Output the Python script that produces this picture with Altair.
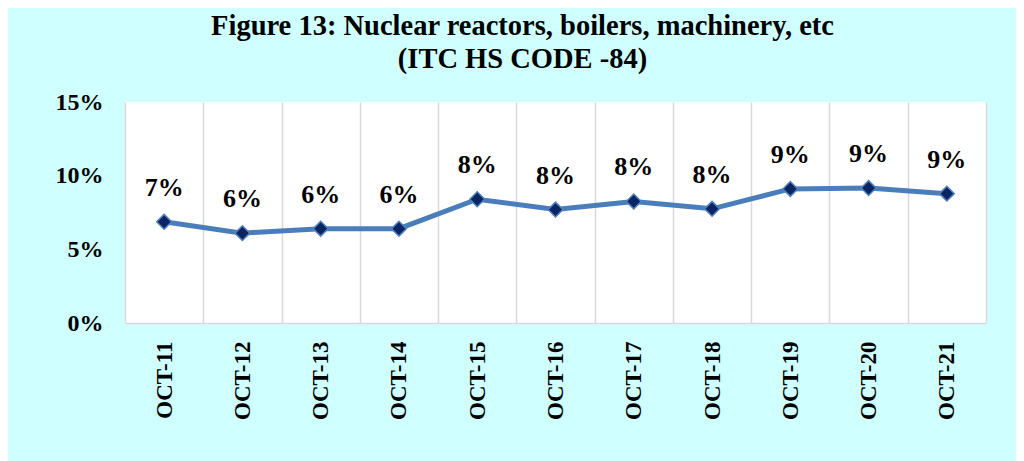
import altair as alt
import pandas as pd

categories = ["OCT-11", "OCT-12", "OCT-13", "OCT-14", "OCT-15", "OCT-16",
              "OCT-17", "OCT-18", "OCT-19", "OCT-20", "OCT-21"]
shares = [0.0687, 0.061, 0.064, 0.064, 0.084, 0.077, 0.0825, 0.0775, 0.091, 0.0916, 0.0878]
y_ticks = [0, 0.05, 0.10, 0.15]

df = pd.DataFrame({"month": categories, "share": shares})

FONT = "Liberation Serif"

x = alt.X("month:N", sort=categories, title=None,
          scale=alt.Scale(paddingInner=0, paddingOuter=0),
          axis=alt.Axis(labelAngle=-90, labelFont=FONT, labelFontSize=23,
                        labelFontWeight="bold", labelColor="black",
                        labelPadding=18, ticks=False, tickBand="extent",
                        grid=True, gridColor="#d9d9d9", gridWidth=1.5,
                        domainColor="#d9d9d9", domainWidth=1.5,
                        labelAlign="right", labelBaseline="middle"))
y = alt.Y("share:Q", title=None,
          scale=alt.Scale(domain=[0, 0.15], nice=False),
          axis=alt.Axis(values=y_ticks, format=".0%", labelFont=FONT,
                        labelFontSize=24, labelFontWeight="bold",
                        labelColor="black", labelPadding=22, ticks=False,
                        domain=False, grid=False))

base = alt.Chart(df).encode(x=x, y=y)

line = base.mark_line(color="#4a7ebb", strokeWidth=5)
pts = base.mark_point(shape="diamond", filled=True, size=220, fill="#0b2463",
                      stroke="#4f81bd", strokeWidth=1.5, opacity=1)
labels = base.mark_text(dy=-34, font=FONT, fontSize=26, fontWeight="bold",
                        color="black").encode(text=alt.Text("share:Q", format=".0%"))

chart = alt.layer(line, pts, labels).properties(
    width=861, height=221,
    title=alt.TitleParams(
        ["Figure 13: Nuclear reactors, boilers, machinery, etc", "(ITC HS CODE -84)"],
        font=FONT, fontSize=28.5, fontWeight="bold", color="black",
        anchor="middle", dx=-33, offset=17, lineHeight=33),
    background="#cfffff",
    padding={"left": 117, "top": 94, "right": 30, "bottom": 138},
    autosize=alt.AutoSizeParams(type="none"),
).configure_view(fill="white", stroke=None)

chart.save("out.html", embed_options={"renderer": "svg", "actions": False})
